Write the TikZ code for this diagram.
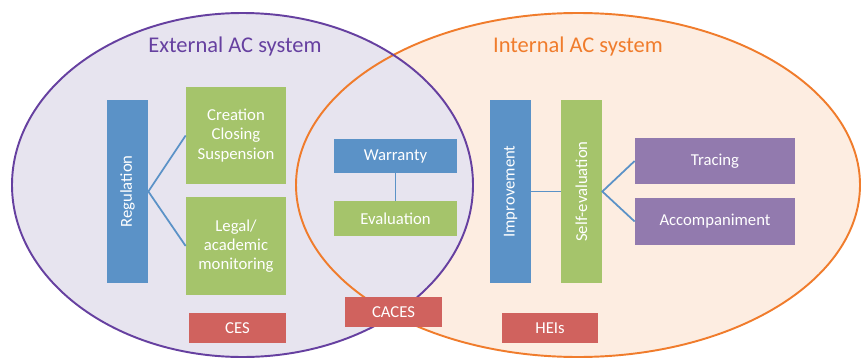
\documentclass[tikz,border=0pt]{standalone}
\usepackage{fontspec}
\setmainfont{Carlito}
\usetikzlibrary{shapes.geometric}
\definecolor{boxblue}{HTML}{5B92C7}
\definecolor{boxgreen}{HTML}{A5C46B}
\definecolor{boxred}{HTML}{D0625E}
\definecolor{boxpurple}{HTML}{927AAE}
\definecolor{extfill}{HTML}{E7E4EF}
\definecolor{extline}{HTML}{6640A0}
\definecolor{intfill}{HTML}{FDEDE1}
\definecolor{intline}{HTML}{F07C2C}
\newdimen\u
\u=0.02cm
\begin{document}
\begin{tikzpicture}[x=0.02cm,y=-0.02cm,
  card/.style={draw=none, text=white, font=\fontsize{9.5}{11}\selectfont, align=center, inner sep=0pt},
  bluebox/.style={card, fill=boxblue},
  greenbox/.style={card, fill=boxgreen},
  redbox/.style={card, fill=boxred},
  purplebox/.style={card, fill=boxpurple},
  link/.style={draw=boxblue, line width=1pt},
  region/.style={ellipse, inner sep=0pt},
  title/.style={font=\fontsize{12.8}{15}\selectfont}
]
\useasboundingbox (0,0) rectangle (861,358);
\clip (0,0) rectangle (861,358);

% the two overlapping systems: fills first, outlines on top
\node[region, fill=intfill, minimum width=564\u, minimum height=344\u] (internal) at (578,185) {};
\node[region, fill=extfill, minimum width=461\u, minimum height=344\u] (external) at (242.5,185) {};
\draw[intline, line width=1.1pt] (578,185) ellipse [x radius=282, y radius=172];
\draw[extline, line width=1.1pt] (242.5,185) ellipse [x radius=230.5, y radius=172];

\node[title, text=extline] (exttitle) at (235,47) {External AC system};
\node[title, text=intline] (inttitle) at (578,47) {Internal AC system};

% external side
\node[bluebox, rotate=90, minimum width=183\u, minimum height=41\u] (reg) at (127.5,191.5) {Regulation};
\node[greenbox, minimum width=100\u, minimum height=97\u] (creation) at (236,135.5) {Creation\\Closing\\Suspension};
\node[greenbox, minimum width=100\u, minimum height=98\u] (legal) at (236,246) {Legal/\\academic\\monitoring};
\node[redbox, minimum width=97\u, minimum height=30\u] (ces) at (237.5,328) {CES};

% shared part
\node[bluebox, minimum width=123\u, minimum height=34\u] (warranty) at (395.5,156) {Warranty};
\node[greenbox, minimum width=123\u, minimum height=35\u] (evaluation) at (395.5,218.5) {Evaluation};
\node[redbox, minimum width=97\u, minimum height=30\u] (caces) at (393.5,312) {CACES};

% internal side
\node[bluebox, rotate=90, minimum width=183\u, minimum height=41\u] (improve) at (510.5,191.5) {Improvement};
\node[greenbox, rotate=90, minimum width=183\u, minimum height=41\u] (selfeval) at (581.5,191.5) {Self-evaluation};
\node[purplebox, minimum width=160\u, minimum height=46\u] (tracing) at (715,161) {Tracing};
\node[purplebox, minimum width=160\u, minimum height=47\u] (accomp) at (715,221.5) {Accompaniment};
\node[redbox, minimum width=96\u, minimum height=30\u] (heis) at (550,328) {HEIs};

% connectors
\draw[link] (creation.west) -- (reg.south) -- (legal.west);
\draw[link] (warranty.south) -- (evaluation.north);
\draw[link] (improve.south) -- (selfeval.north);
\draw[link] (tracing.west) -- (selfeval.south) -- (accomp.west);
\end{tikzpicture}
\end{document}
